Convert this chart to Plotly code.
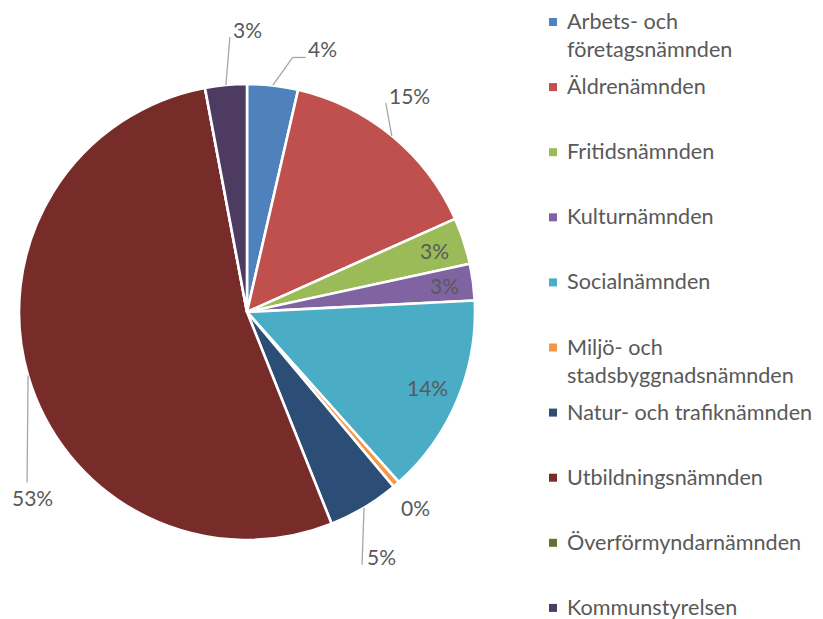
import numpy as np
import plotly.graph_objects as go

# ---- data ----
labels = ["Arbets- och<br>företagsnämnden", "Äldrenämnden", "Fritidsnämnden", "Kulturnämnden",
          "Socialnämnden", "Miljö- och<br>stadsbyggnadsnämnden", "Natur- och trafiknämnden",
          "Utbildningsnämnden", "Överförmyndarnämnden", "Kommunstyrelsen"]
values = [3.6, 14.7, 3.3, 2.6, 14.2, 0.49, 5.06, 53.1, 0.0, 2.95]

# ---- style ----
colors = ["#4F81BD", "#C0504D", "#9BBB59", "#8064A2", "#4BACC6", "#F79646",
          "#2C4D75", "#772C2A", "#5F7530", "#4D3B62"]
W, H = 823, 619
PAD = 8  # default page body margin
CX, CY, R = 247, 312, 228
FONT = "Lato"
TXT = "#595959"
LINE = "#A6A6A6"
# label placement: 'in' -> inside at radius factor; ('out', label offset, leader points offsets or None)
label_style = [
    ("out", (50, -37), [(0, 0), (20, -28), (33, -28)]),
    ("out", (18, -40), [(0, 0), (-6, -33)]),
    ("in", 0.865, None),
    ("in", 0.875, None),
    ("in", 0.86, None),
    ("out", (19, 23), None),
    ("out", (17, 49), [(0, 0), (-2, 57)]),
    ("out", (4, 122), [(0, 0), (-1, 107)]),
    ("none", None, None),
    ("out", (22, -55), [(0, 0), (4, -48)]),
]

def px(x):
    return (x - PAD) / W

def py(y):
    return 1 - (y - PAD) / H

vals = np.array(values, dtype=float)
frac = vals / vals.sum()
cum = np.concatenate([[0], np.cumsum(frac)])
mid = (cum[:-1] + cum[1:]) / 2 * 360.0

fig = go.Figure()
fig.add_trace(go.Pie(
    labels=[l.replace("<br>", " ") for l in labels], values=values, sort=False,
    direction="clockwise", rotation=0,
    marker=dict(colors=colors, line=dict(color="white", width=2.6)),
    textinfo="none", hoverinfo="label+percent", showlegend=False,
    domain=dict(x=[px(CX - R), px(CX + R)], y=[py(CY + R), py(CY - R)]),
))

annotations = []
shapes = []
for i, (kind, a, pts) in enumerate(label_style):
    if kind == "none":
        continue
    th = np.deg2rad(mid[i])
    txt = f"{round(frac[i] * 100):.0f}%"
    if kind == "in":
        lx = CX + a * R * np.sin(th)
        ly = CY - a * R * np.cos(th)
    else:
        ex = CX + R * np.sin(th)
        ey = CY - R * np.cos(th)
        lx, ly = ex + a[0], ey + a[1]
        if pts:
            for (x0, y0), (x1, y1) in zip(pts[:-1], pts[1:]):
                shapes.append(dict(type="line", xref="paper", yref="paper",
                                   x0=px(ex + x0), y0=py(ey + y0), x1=px(ex + x1), y1=py(ey + y1),
                                   line=dict(color=LINE, width=1.3)))
    annotations.append(dict(x=px(lx), y=py(ly), xref="paper", yref="paper", text=txt,
                            showarrow=False, xanchor="center", yanchor="middle",
                            font=dict(family=FONT, size=21, color=TXT)))

# manual legend
LEG_X, LEG_Y0, LEG_DY, LINE_H = 553, 21, 65.1, 28.5
for i, lab in enumerate(labels):
    yc = LEG_Y0 + LEG_DY * i
    shapes.append(dict(type="rect", xref="paper", yref="paper",
                       x0=px(LEG_X - 4), x1=px(LEG_X + 4), y0=py(yc + 5), y1=py(yc - 3),
                       fillcolor=colors[i], line=dict(width=0)))
    for k, part in enumerate(lab.split("<br>")):
        annotations.append(dict(x=px(565), y=py(yc + k * LINE_H), xref="paper", yref="paper",
                                text=part, showarrow=False, xanchor="left", yanchor="middle",
                                font=dict(family=FONT, size=21.6, color=TXT)))

fig.update_layout(width=W, height=H, margin=dict(l=0, r=0, t=0, b=0),
                  paper_bgcolor="white", plot_bgcolor="white",
                  annotations=annotations, shapes=shapes)
fig.write_html("out.html")
